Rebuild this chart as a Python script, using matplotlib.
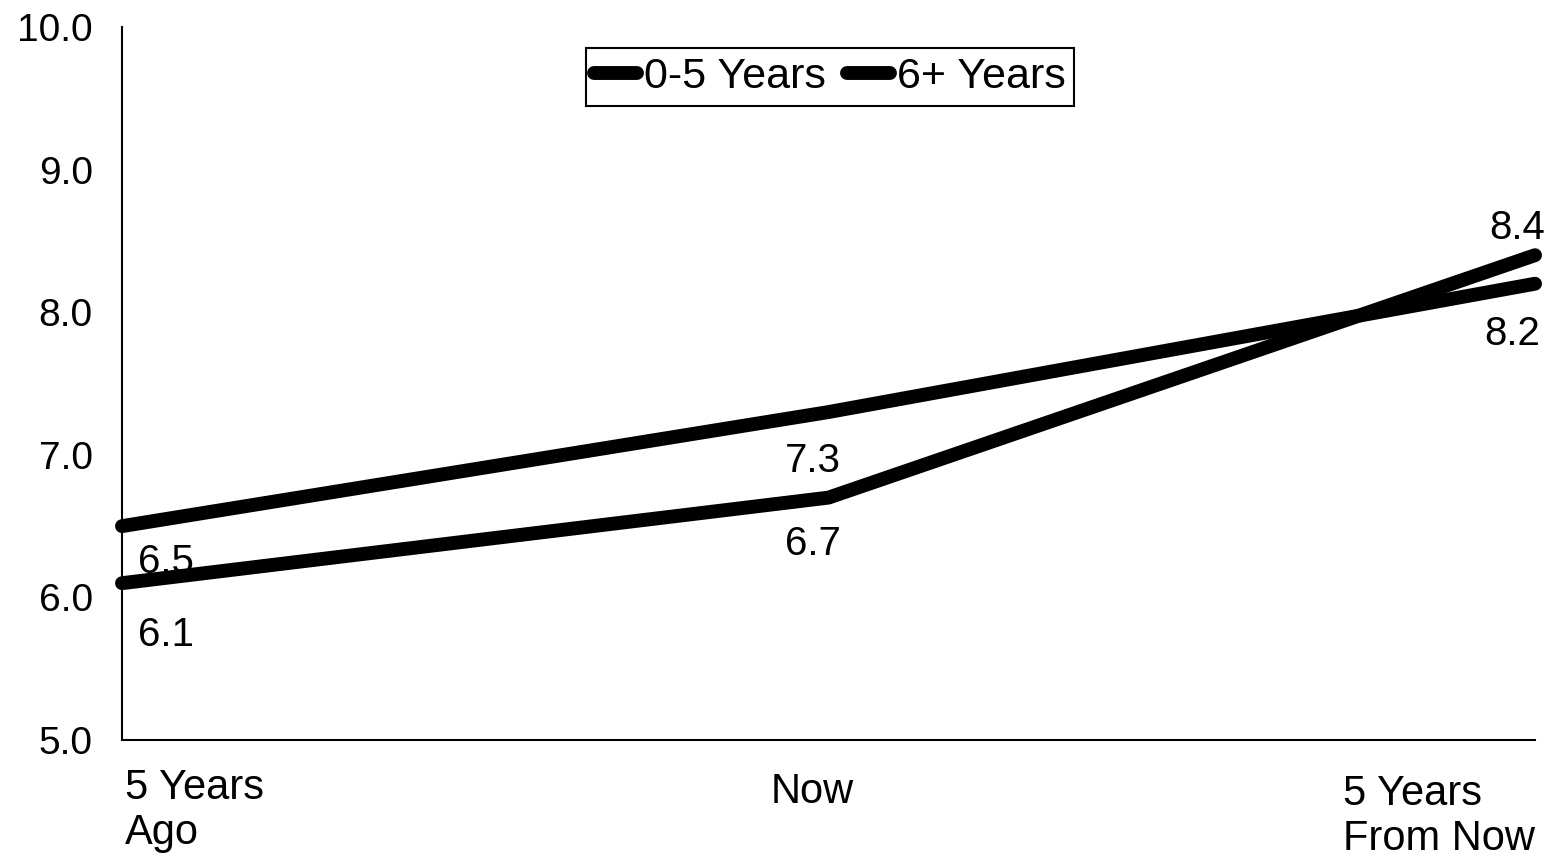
import matplotlib.pyplot as plt
import matplotlib.transforms as mtransforms

plt.rcParams['font.family'] = ['Liberation Sans', 'DejaVu Sans']

# data
periods = ['5 Years\nAgo', 'Now', '5 Years\nFrom Now']
series_names = ['0-5 Years', '6+ Years']
young = [6.5, 7.3, 8.2]
old = [6.1, 6.7, 8.4]
# label offsets in pixels (dx, dy) and alignment per point
young_offsets = [(16, -36, 'left'), (-16, -49, 'center'), (5, -50, 'right')]
old_offsets = [(16, -52, 'left'), (-16, -46, 'center'), (10, 27, 'right')]
# x label offsets in pixels (dx, dy from axis) and alignment
period_offsets = [(3, -28, 'left'), (-16, -32, 'center'), (0, -34, 'right')]

fig = plt.figure(figsize=(15.54, 8.61), dpi=100)
ax = fig.add_axes([0.0785, 0.1405, 0.9093, 0.8281])

x = list(range(len(periods)))
for vals, name, offs in [(young, series_names[0], young_offsets),
                         (old, series_names[1], old_offsets)]:
    ax.plot(x, vals, color='black', linewidth=10, solid_capstyle='round',
            solid_joinstyle='round', clip_on=False, label=name)
    for xi, v, (dx, dy, ha) in zip(x, vals, offs):
        ax.annotate(f'{v:.1f}', (xi, v), xytext=(dx * 0.72, dy * 0.72),
                    textcoords='offset points', ha=ha, va='center',
                    fontsize=29)

ax.set_xlim(0, 2)
ax.set_ylim(5, 10)
ax.set_yticks([5, 6, 7, 8, 9, 10])
ax.set_yticklabels([f'{t:.1f}' for t in [5, 6, 7, 8, 9, 10]], fontsize=28)
ax.set_xticks([])
ax.tick_params(axis='y', length=0, pad=21)

# category labels under the axis
trans = mtransforms.blended_transform_factory(ax.transData, ax.transAxes)
for xi, lab, (dx, dy, ha) in zip(x, periods, period_offsets):
    ax.annotate(lab, (xi, 0), xycoords=trans, xytext=(dx * 0.72, dy * 0.72),
                textcoords='offset points', ha=ha, va='top',
                multialignment='left', fontsize=30, linespacing=1.17,
                annotation_clip=False)

for s in ['top', 'right']:
    ax.spines[s].set_visible(False)
for s in ['left', 'bottom']:
    ax.spines[s].set_linewidth(1.5)

leg = ax.legend(loc='center', bbox_to_anchor=(0.501, 0.93), ncol=2,
                fontsize=31, handlelength=1.0, handletextpad=0.15,
                columnspacing=0.5, borderpad=0.2, borderaxespad=0,
                fancybox=False, edgecolor='black', framealpha=1)
leg.get_frame().set_linewidth(1.5)

fig.savefig('out.png', dpi=100)
